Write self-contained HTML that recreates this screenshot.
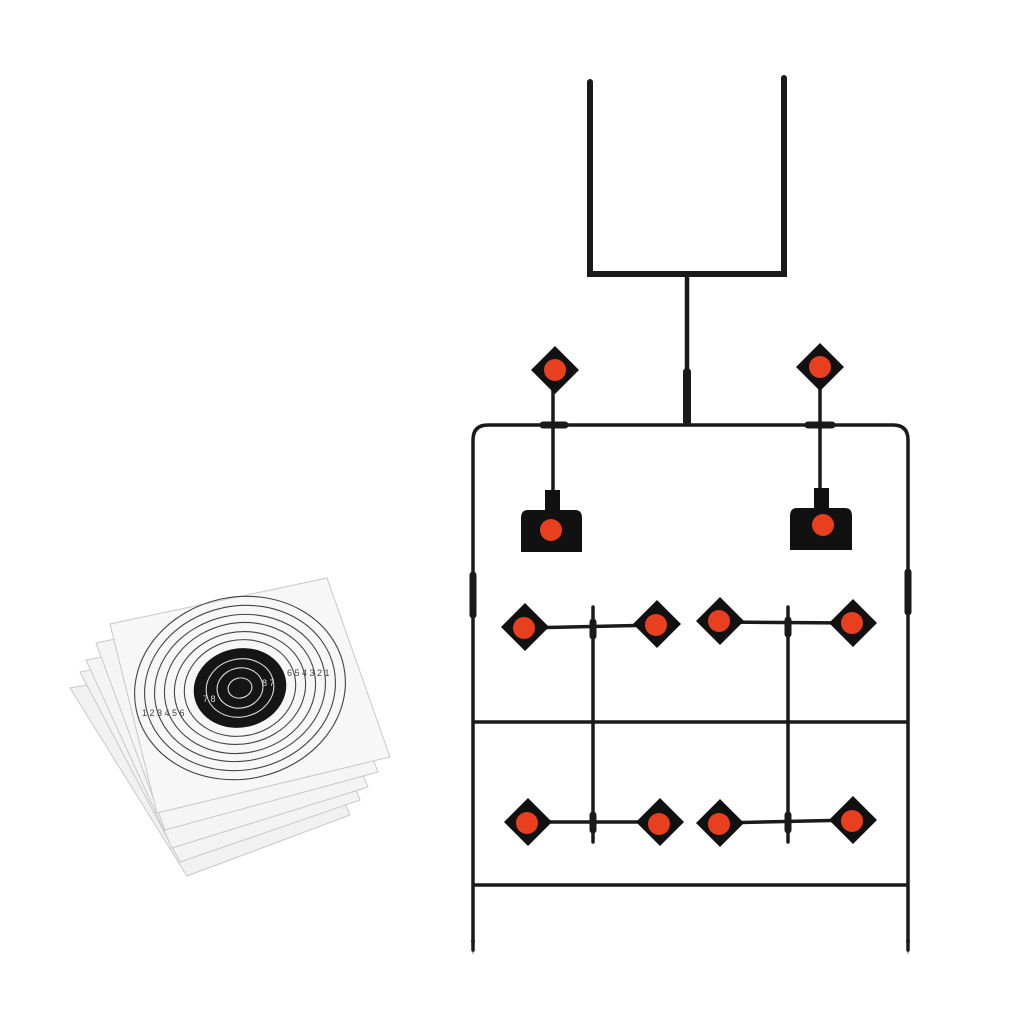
<!DOCTYPE html>
<html><head><meta charset="utf-8"><style>
html,body{margin:0;padding:0;background:#fff;}
svg{display:block;}
</style></head><body>
<svg width="1024" height="1024" viewBox="0 0 1024 1024" xmlns="http://www.w3.org/2000/svg">
<rect width="1024" height="1024" fill="#fff"/>
<g stroke="#c8c8c8" stroke-width="1">
<polygon points="70,688 280,650 350,815 187,876" fill="#f1f1f1"/>
<polygon points="80,672 292,633 360,800 180,862" fill="#f3f3f3"/>
<polygon points="86,660 300,618 368,787 172,848" fill="#f4f4f4"/>
<polygon points="96,643 312,598 378,772 165,830" fill="#f5f5f5"/>
<polygon points="110,624 327,578 390,757 157,813" fill="#f7f7f7"/>
</g>
<g transform="translate(240,688) rotate(-12)" fill="none" stroke="#444" stroke-width="1.1">
<ellipse rx="106" ry="91"/><ellipse rx="96" ry="82"/><ellipse rx="86" ry="73"/>
<ellipse rx="76" ry="65"/><ellipse rx="66" ry="56"/><ellipse rx="56" ry="48"/>
<ellipse rx="46" ry="39" fill="#151515" stroke="#151515"/>
<ellipse rx="34" ry="29" stroke="#ddd"/><ellipse rx="23" ry="20" stroke="#ddd"/><ellipse rx="12" ry="10" stroke="#ddd"/>
</g>
<g font-family="Liberation Sans, sans-serif" font-size="9" fill="#444">
<text x="142" y="716">1 2 3 4 5 6</text>
<text x="287" y="676">6 5 4 3 2 1</text>
<text x="203" y="702" fill="#ddd">7 8</text><text x="262" y="686" fill="#ddd">8 7</text>
</g>
<g stroke="#1a1a1a" fill="none" stroke-linecap="round">
<path d="M590,82 V274 H784 V78" stroke-width="6"/>
<line x1="687" y1="276" x2="687" y2="420" stroke-width="4.5"/>
<line x1="687" y1="372" x2="687" y2="422" stroke-width="8"/>
<path d="M473,950 V440 Q473,425 488,425 H893 Q908,425 908,440 V950" stroke-width="3.5"/>
<line x1="473" y1="575" x2="473" y2="615" stroke-width="7"/>
<line x1="908" y1="572" x2="908" y2="612" stroke-width="7"/>
<line x1="475" y1="722" x2="907" y2="722" stroke-width="3.5"/>
<line x1="475" y1="885" x2="907" y2="885" stroke-width="3.5"/>
<line x1="553" y1="385" x2="553" y2="495" stroke-width="3.5"/>
<line x1="820" y1="385" x2="820" y2="495" stroke-width="3.5"/>
<line x1="543" y1="425" x2="565" y2="425" stroke-width="7"/>
<line x1="808" y1="425" x2="832" y2="425" stroke-width="7"/>
<line x1="593" y1="607" x2="593" y2="842" stroke-width="3.5"/>
<line x1="788" y1="607" x2="788" y2="842" stroke-width="3.5"/>
<line x1="593" y1="622" x2="593" y2="636" stroke-width="7"/>
<line x1="788" y1="620" x2="788" y2="634" stroke-width="7"/>
<line x1="593" y1="815" x2="593" y2="830" stroke-width="7"/>
<line x1="788" y1="815" x2="788" y2="830" stroke-width="7"/>
<line x1="525" y1="628" x2="657" y2="625" stroke-width="3.5"/>
<line x1="720" y1="622" x2="853" y2="623" stroke-width="3.5"/>
<line x1="528" y1="822" x2="660" y2="822" stroke-width="3.5"/>
<line x1="720" y1="823" x2="853" y2="820" stroke-width="3.5"/>
</g>
<g fill="#111">
<path d="M545,490 H560 V510 H575 Q582,510 582,518 V552 H521 V518 Q521,510 528,510 H545 Z"/>
<path d="M814,488 H829 V508 H845 Q852,508 852,516 V550 H790 V516 Q790,508 797,508 H814 Z"/>
</g>
<g fill="#111">
<polygon points="555,346 579,370 555,394 531,370"/>
<polygon points="820,343 844,367 820,391 796,367"/>
<polygon points="525,603 549,627 525,651 501,627"/>
<polygon points="657,600 681,624 657,648 633,624"/>
<polygon points="720,597 744,621 720,645 696,621"/>
<polygon points="853,599 877,623 853,647 829,623"/>
<polygon points="528,798 552,822 528,846 504,822"/>
<polygon points="660,798 684,822 660,846 636,822"/>
<polygon points="720,799 744,823 720,847 696,823"/>
<polygon points="853,796 877,820 853,844 829,820"/>
</g>
<g fill="#e8401e">
<circle cx="555" cy="370" r="11"/><circle cx="820" cy="367" r="11"/>
<circle cx="551" cy="530" r="11"/><circle cx="823" cy="525" r="11"/>
<circle cx="524" cy="628" r="11"/><circle cx="656" cy="625" r="11"/>
<circle cx="719" cy="621" r="11"/><circle cx="852" cy="623" r="11"/>
<circle cx="527" cy="823" r="11"/><circle cx="659" cy="824" r="11"/>
<circle cx="719" cy="824" r="11"/><circle cx="852" cy="821" r="11"/>
</g>
<g fill="#1a1a1a">
<polygon points="471,940 475,940 473,955"/>
<polygon points="906,940 910,940 908,955"/>
</g>
</svg>
</body></html>
